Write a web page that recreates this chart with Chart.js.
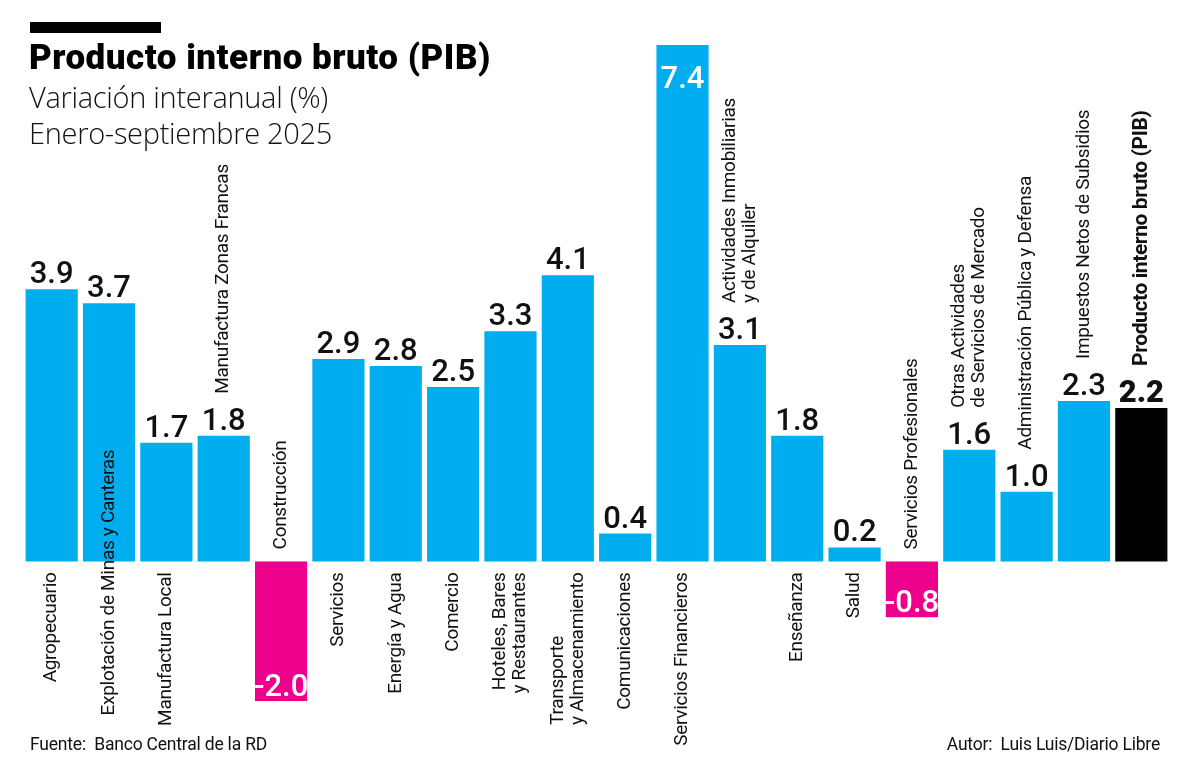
<!DOCTYPE html>
<html lang="es">
<head>
<meta charset="utf-8">
<title>Producto interno bruto (PIB)</title>
<script src="https://cdn.jsdelivr.net/npm/chart.js@4.4.1/dist/chart.umd.min.js"></script>
<style>
  html, body { margin: 0; padding: 0; background: #fff; }
  #wrap { position: relative; width: 1200px; height: 778px; overflow: hidden; }
  #pib-chart { position: absolute; left: 0; top: 0; }
  .raya { position: absolute; left: 30px; top: 22px; width: 131px; height: 11px; background: #000; }
  h1 { position: absolute; left: 29px; top: 37px; margin: 0; font: 900 35px Roboto, sans-serif; letter-spacing: 0.5px; color: #000; }
  .sub { position: absolute; left: 29px; margin: 0; font: 300 29px "Open Sans", sans-serif; letter-spacing: -0.3px; color: #111; }
  .pie { position: absolute; top: 734px; font: 17.5px Roboto, sans-serif; letter-spacing: -0.2px; color: #111; }
</style>
</head>
<body>
<div id="wrap">
  <canvas id="pib-chart" width="1200" height="778"></canvas>
  <div class="raya"></div>
  <h1>Producto interno bruto (PIB)</h1>
  <p class="sub" style="top:77px">Variación interanual (%)</p>
  <p class="sub" style="top:113px">Enero-septiembre 2025</p>
  <div class="pie" style="left:30px">Fuente:&nbsp; Banco Central de la RD</div>
  <div class="pie" style="right:40px">Autor:&nbsp; Luis Luis/Diario Libre</div>
</div>
<script>
const categorias = [
    'Agropecuario',
    'Explotación de Minas y Canteras',
    'Manufactura Local',
    'Manufactura Zonas Francas',
    'Construcción',
    'Servicios',
    'Energía y Agua',
    'Comercio',
    ['Hoteles, Bares', 'y Restaurantes'],
    ['Transporte', 'y Almacenamiento'],
    'Comunicaciones',
    'Servicios Financieros',
    ['Actividades Inmobiliarias', 'y de Alquiler'],
    'Enseñanza',
    'Salud',
    'Servicios Profesionales',
    ['Otras Actividades', 'de Servicios de Mercado'],
    'Administración Pública y Defensa',
    'Impuestos Netos de Subsidios',
    'Producto interno bruto (PIB)'
]
const valores = [3.9, 3.7, 1.7, 1.8, -2.0, 2.9, 2.8, 2.5, 3.3, 4.1, 0.4, 7.4, 3.1, 1.8, 0.2, -0.8, 1.6, 1.0, 2.3, 2.2]

// donde va cada etiqueta (abajo del cero, encima de la barra, etc)
const posEtiqueta = ['abajo', 'cruza', 'abajo', 'arriba', 'neg', 'abajo', 'abajo', 'abajo', 'abajo', 'abajoIzq',
    'abajo', 'abajo', 'arriba', 'abajo', 'abajo', 'neg', 'arriba', 'arriba', 'arriba', 'arriba']

const AZUL = '#00aeef'
const MAGENTA = '#ec008c'
const total = valores.length - 1

const colores = valores.map((v, i) => i === total ? '#000' : (v < 0 ? MAGENTA : AZUL))

const textoVertical = (ctx, lineas, x, y, align) => {
    ctx.save()
    ctx.translate(x, y)
    ctx.rotate(-Math.PI / 2)
    ctx.textAlign = align
    ctx.textBaseline = 'middle'
    lineas.forEach((l, k) => ctx.fillText(l, 0, (k - (lineas.length - 1) / 2) * 20))
    ctx.restore()
}

const etiquetas = {
    id: 'etiquetas',
    afterDatasetsDraw(chart) {
        const ctx = chart.ctx
        const meta = chart.getDatasetMeta(0)
        const cero = chart.scales.y.getPixelForValue(0)
        meta.data.forEach((bar, i) => {
            const v = valores[i]
            const x = bar.x
            const arriba = Math.min(bar.y, bar.base)
            const abajo = Math.max(bar.y, bar.base)

            // valor
            ctx.save()
            ctx.textAlign = 'center'
            ctx.textBaseline = 'alphabetic'
            ctx.font = (i === total ? '900 ' : '500 ') + '31px Roboto'
            const txt = v.toFixed(1)
            if (v < 0) {
                ctx.fillStyle = '#fff'
                ctx.fillText(txt, x, abajo - 5)
            } else if (arriba - 36 < chart.chartArea.top) {
                ctx.fillStyle = '#fff'
                ctx.fillText(txt, x, arriba + 43)
            } else {
                ctx.fillStyle = '#111'
                ctx.fillText(txt, x, arriba - 6)
            }
            ctx.restore()

            // categoria
            ctx.save()
            ctx.fillStyle = '#111'
            if (i === total) {
                ctx.font = 'bold 21px Roboto'
                ctx.letterSpacing = '-0.4px'
            } else {
                ctx.font = '19px Roboto'
                ctx.letterSpacing = '-0.3px'
            }
            const lineas = [].concat(categorias[i])
            const p = posEtiqueta[i]
            if (p === 'abajo') {
                textoVertical(ctx, lineas, x, cero + 11, 'right')
            } else if (p === 'abajoIzq') {
                const w = Math.max(...lineas.map(l => ctx.measureText(l).width))
                textoVertical(ctx, lineas, x, cero + 11 + w, 'left')
            } else if (p === 'cruza') {
                textoVertical(ctx, lineas, x, cero + 154, 'left')
            } else if (p === 'neg') {
                textoVertical(ctx, lineas, x, cero - 12, 'left')
            } else {
                textoVertical(ctx, lineas, x, arriba - 42, 'left')
            }
            ctx.restore()
        })
    }
}

const pibConfig = {
    type: 'bar',
    data: {
        labels: categorias,
        datasets: [{
            data: valores,
            backgroundColor: colores,
            borderWidth: 0,
            categoryPercentage: 1,
            barPercentage: 0.91
        }]
    },
    options: {
        responsive: false,
        animation: false,
        layout: {
            padding: { left: 23, right: 30, top: 45, bottom: 77 }
        },
        plugins: {
            legend: { display: false },
            title: { display: false },
            tooltip: { enabled: false }
        },
        scales: {
            x: { display: false },
            y: { display: false, min: -2.0, max: 7.4 }
        }
    },
    plugins: [etiquetas]
}

new Chart(document.querySelector('#pib-chart'), pibConfig)
</script>
</body>
</html>
